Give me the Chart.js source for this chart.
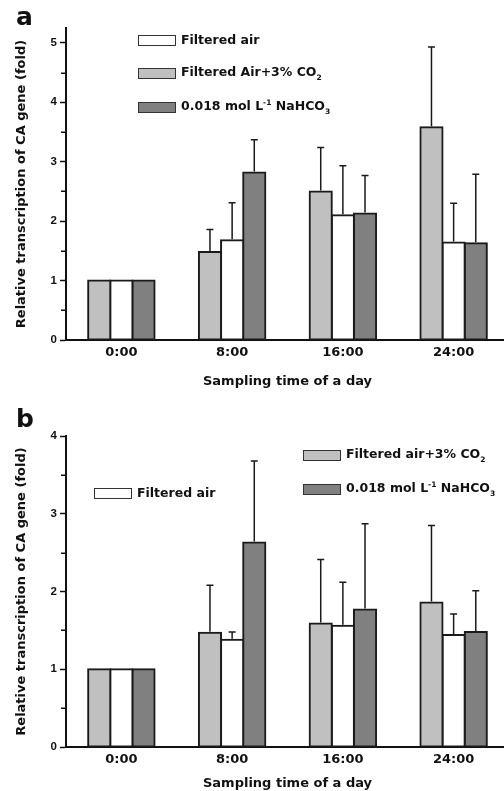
<!DOCTYPE html>
<html lang="en">
<head>
<meta charset="UTF-8">
<title>CA gene transcription</title>
<script src="https://cdn.jsdelivr.net/npm/chart.js"></script>
<style>
  html, body { margin: 0; padding: 0; background: #fff; overflow: hidden; }
  body { width: 504px; height: 791px; position: relative; }
  canvas { position: absolute; left: 0; }
  .letter { position: absolute; left: 16px; font: bold 25px "DejaVu Sans"; line-height: 25px; color: #111; }
  .leg { position: absolute; height: 14px; display: flex; align-items: center; white-space: nowrap;
         font: bold 12.5px "DejaVu Sans"; line-height: 14px; color: #111; }
  .leg .box { width: 36px; height: 9px; border: 1.5px solid #333; margin-right: 5px; flex: none; }
  .leg sub, .leg sup { font-size: 7.5px; vertical-align: baseline; position: relative; }
  .leg sub { top: 4px; }
  .leg sup { top: -5px; }
</style>
</head>
<body>
<canvas id="chartA" width="509" height="395" style="top:0"></canvas>
<canvas id="chartB" width="509" height="396" style="top:395px"></canvas>

<div class="letter" style="top:4px">a</div>
<div class="letter" style="top:406px">b</div>

<div class="leg" style="left:138px; top:33px"><span class="box" style="background:#fff"></span><span>Filtered air</span></div>
<div class="leg" style="left:138px; top:66px"><span class="box" style="background:#c0c0c0"></span><span>Filtered Air+3% CO<sub>2</sub></span></div>
<div class="leg" style="left:138px; top:100px"><span class="box" style="background:#808080"></span><span>0.018 mol L<sup>-1</sup> NaHCO<sub>3</sub></span></div>

<div class="leg" style="left:94px; top:486px"><span class="box" style="background:#fff"></span><span>Filtered air</span></div>
<div class="leg" style="left:303px; top:448px"><span class="box" style="background:#c0c0c0"></span><span>Filtered air+3% CO<sub>2</sub></span></div>
<div class="leg" style="left:303px; top:482px"><span class="box" style="background:#808080"></span><span>0.018 mol L<sup>-1</sup> NaHCO<sub>3</sub></span></div>

<script>
const times = ['0:00', '8:00', '16:00', '24:00'];
const seriesNames = ['Filtered air+3% CO2', 'Filtered air', '0.018 mol L-1 NaHCO3'];

// panel a: mean and upper SD
const aCO2 = [1, 1.48, 2.50, 3.58];
const aCO2Sd = [0, 0.38, 0.74, 1.35];
const aAir = [1, 1.68, 2.10, 1.64];
const aAirSd = [0, 0.63, 0.83, 0.66];
const aBic = [1, 2.82, 2.13, 1.63];
const aBicSd = [0, 0.55, 0.64, 1.16];

// panel b
const bCO2 = [1, 1.47, 1.59, 1.86];
const bCO2Sd = [0, 0.61, 0.82, 0.99];
const bAir = [1, 1.38, 1.56, 1.44];
const bAirSd = [0, 0.10, 0.56, 0.27];
const bBic = [1, 2.63, 1.77, 1.48];
const bBicSd = [0, 1.05, 1.10, 0.53];

const fills = ['#c0c0c0', '#ffffff', '#808080'];
const ink = '#1a1a1a';

// upper error bars with a cap
const errorBars = {
  id: 'errorBars',
  afterDatasetsDraw(chart) {
    const ctx = chart.ctx, y = chart.scales.y;
    ctx.save();
    ctx.strokeStyle = ink;
    ctx.lineWidth = 1.5;
    chart.data.datasets.forEach((ds, i) => {
      chart.getDatasetMeta(i).data.forEach((bar, j) => {
        const sd = ds.sd[j];
        if (!sd) return;
        const top = y.getPixelForValue(ds.data[j] + sd);
        ctx.beginPath();
        ctx.moveTo(bar.x, bar.y - 1);
        ctx.lineTo(bar.x, top);
        ctx.moveTo(bar.x - 3.5, top);
        ctx.lineTo(bar.x + 3.5, top);
        ctx.stroke();
      });
    });
    ctx.restore();
  }
};

// short ticks at the half steps
const minorTicks = {
  id: 'minorTicks',
  afterDraw(chart) {
    const ctx = chart.ctx, s = chart.scales.y;
    ctx.save();
    ctx.strokeStyle = '#111';
    ctx.lineWidth = 1.5;
    s.ticks.forEach(t => {
      if (Number.isInteger(t.value)) return;
      const py = Math.round(s.getPixelForValue(t.value)) + 0.25;
      ctx.beginPath();
      ctx.moveTo(s.right - 5, py);
      ctx.lineTo(s.right, py);
      ctx.stroke();
    });
    ctx.restore();
  }
};

function makeChart(id, sets, yMax, padTop, axisH, titlePad) {
  return new Chart(document.getElementById(id), {
    type: 'bar',
    data: {
      labels: times,
      datasets: sets.map((s, i) => ({
        label: seriesNames[i],
        data: s[0],
        sd: s[1],
        backgroundColor: fills[i],
        borderColor: ink,
        borderWidth: 2,
        borderSkipped: false,
        inflateAmount: 1,
        categoryPercentage: 0.6,
        barPercentage: 1
      }))
    },
    options: {
      responsive: false,
      animation: false,
      devicePixelRatio: 1,
      layout: { padding: { top: padTop, left: 0, right: 0, bottom: 0 } },
      plugins: { legend: { display: false }, tooltip: { enabled: false } },
      scales: {
        x: {
          grid: { display: false, drawTicks: false },
          border: { display: true, width: 2, color: '#111' },
          ticks: { padding: 5, color: '#111', font: { family: 'DejaVu Sans', weight: 'bold', size: 13 } },
          title: {
            display: true, text: 'Sampling time of a day', color: '#111',
            font: { family: 'DejaVu Sans', weight: 'bold', size: 13 },
            padding: { top: 0, bottom: titlePad }
          },
          afterFit: s => { s.height = axisH; }
        },
        y: {
          min: 0, max: yMax,
          grid: {
            drawOnChartArea: false, tickLength: 6, tickWidth: 1.5,
            tickColor: c => Number.isInteger(c.tick && c.tick.value) ? '#111' : 'rgba(0,0,0,0)'
          },
          border: { width: 2, color: '#111' },
          ticks: {
            stepSize: 0.5, includeBounds: false, autoSkip: false, padding: 3, color: '#111',
            font: { family: 'Liberation Sans', weight: 'bold', size: 11.5 },
            callback: v => Number.isInteger(v) ? v : ''
          },
          title: {
            display: true, text: 'Relative transcription of CA gene (fold)', color: '#111',
            font: { family: 'DejaVu Sans', weight: 'bold', size: 13 },
            padding: { top: 14, bottom: 0 }
          },
          afterFit: s => { s.width = 66; }
        }
      }
    },
    plugins: [errorBars, minorTicks]
  });
}

makeChart('chartA', [[aCO2, aCO2Sd], [aAir, aAirSd], [aBic, aBicSd]], 5.25, 28, 55, 6);
makeChart('chartB', [[bCO2, bCO2Sd], [bAir, bAirSd], [bBic, bBicSd]], 4, 41, 44, 0);
</script>
</body>
</html>
